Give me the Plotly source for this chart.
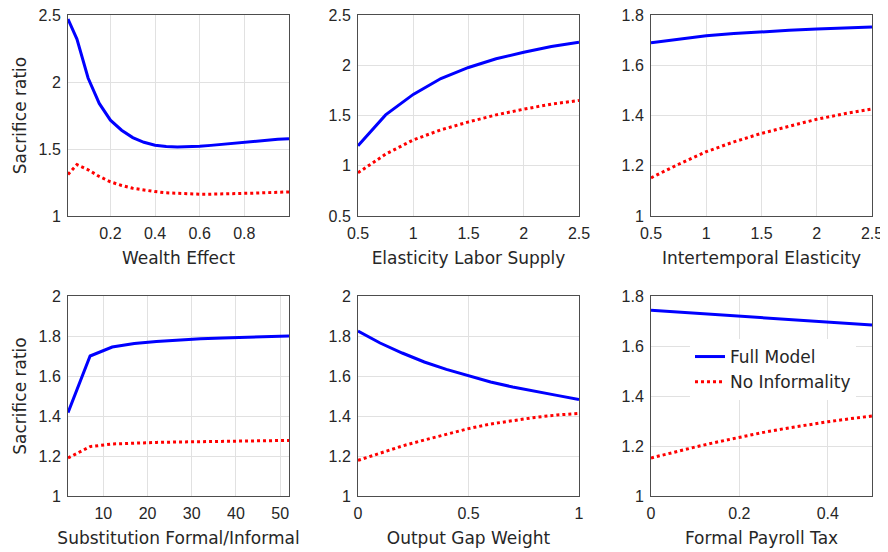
import plotly.graph_objects as go

# ---- data ----
wealth_x = [0.01, 0.05, 0.1, 0.15, 0.2, 0.25, 0.3, 0.35, 0.4, 0.45, 0.5, 0.55, 0.6, 0.65, 0.7, 0.75, 0.8, 0.85, 0.9, 0.95, 1.0]
wealth_full = [2.47, 2.32, 2.03, 1.84, 1.715, 1.64, 1.585, 1.55, 1.528, 1.518, 1.515, 1.516, 1.52, 1.527, 1.535, 1.543, 1.552, 1.558, 1.565, 1.572, 1.577]
wealth_noinf = [1.31, 1.383, 1.345, 1.295, 1.255, 1.228, 1.207, 1.192, 1.182, 1.173, 1.168, 1.165, 1.163, 1.163, 1.164, 1.166, 1.168, 1.171, 1.174, 1.177, 1.18]

labor_x = [0.5, 0.75, 1.0, 1.25, 1.5, 1.75, 2.0, 2.25, 2.5]
labor_full = [1.2, 1.506, 1.71, 1.868, 1.978, 2.064, 2.13, 2.187, 2.23]
labor_noinf = [0.93, 1.115, 1.257, 1.357, 1.436, 1.506, 1.563, 1.613, 1.65]

inter_x = [0.5, 0.75, 1.0, 1.25, 1.5, 1.75, 2.0, 2.25, 2.5]
inter_full = [1.69, 1.704, 1.717, 1.726, 1.733, 1.739, 1.744, 1.748, 1.752]
inter_noinf = [1.152, 1.206, 1.256, 1.295, 1.329, 1.358, 1.385, 1.407, 1.426]

subst_x = [2, 7, 12, 17, 22, 27, 32, 37, 42, 47, 52]
subst_full = [1.417, 1.70, 1.745, 1.762, 1.772, 1.78, 1.786, 1.79, 1.794, 1.797, 1.80]
subst_noinf = [1.19, 1.247, 1.26, 1.265, 1.268, 1.27, 1.272, 1.274, 1.275, 1.277, 1.278]

gap_x = [0.0, 0.1, 0.2, 0.3, 0.4, 0.5, 0.6, 0.7, 0.8, 0.9, 1.0]
gap_full = [1.825, 1.765, 1.715, 1.67, 1.633, 1.60, 1.57, 1.545, 1.523, 1.503, 1.483]
gap_noinf = [1.178, 1.215, 1.25, 1.28, 1.31, 1.337, 1.36, 1.378, 1.393, 1.405, 1.413]

tax_x = [0.0, 0.05, 0.1, 0.15, 0.2, 0.25, 0.3, 0.35, 0.4, 0.45, 0.5]
tax_full = [1.743, 1.737, 1.731, 1.725, 1.719, 1.714, 1.708, 1.702, 1.697, 1.690, 1.684]
tax_noinf = [1.152, 1.175, 1.196, 1.216, 1.236, 1.253, 1.269, 1.284, 1.297, 1.309, 1.32]

x_titles = ["Wealth Effect", "Elasticity Labor Supply", "Intertemporal Elasticity",
            "Substitution Formal/Informal", "Output Gap Weight", "Formal Payroll Tax"]
y_title = "Sacrifice ratio"
series_names = ["Full Model", "No Informality"]

x_ticks = [[0.2, 0.4, 0.6, 0.8], [0.5, 1, 1.5, 2, 2.5], [0.5, 1, 1.5, 2, 2.5],
           [10, 20, 30, 40, 50], [0, 0.5, 1], [0, 0.2, 0.4]]
x_ticktext = [["0.2", "0.4", "0.6", "0.8"], ["0.5", "1", "1.5", "2", "2.5"], ["0.5", "1", "1.5", "2", "2.5"],
              ["10", "20", "30", "40", "50"], ["0", "0.5", "1"], ["0", "0.2", "0.4"]]
y_ticks = [[1, 1.5, 2, 2.5], [0.5, 1, 1.5, 2, 2.5], [1, 1.2, 1.4, 1.6, 1.8],
           [1, 1.2, 1.4, 1.6, 1.8, 2], [1, 1.2, 1.4, 1.6, 1.8, 2], [1, 1.2, 1.4, 1.6, 1.8]]
y_ticktext = [["1", "1.5", "2", "2.5"], ["0.5", "1", "1.5", "2", "2.5"], ["1", "1.2", "1.4", "1.6", "1.8"],
              ["1", "1.2", "1.4", "1.6", "1.8", "2"], ["1", "1.2", "1.4", "1.6", "1.8", "2"], ["1", "1.2", "1.4", "1.6", "1.8"]]

# ---- layout ----
# the page body has an 8px margin, so the figure is placed 8px in from the window corner
OFF = 8
W, H = 888 - OFF, 552 - OFF
x_ranges = [[0.01, 1.0], [0.5, 2.5], [0.5, 2.5], [2, 52], [0, 1], [0, 0.5]]
y_ranges = [[1, 2.5], [0.5, 2.5], [1, 1.8], [1, 2], [1, 2], [1, 1.8]]
col_px = [(68, 289), (358, 579), (651, 872)]   # window pixels
row_px = [(15, 216), (296, 496)]

data_sets = [(wealth_x, wealth_full, wealth_noinf), (labor_x, labor_full, labor_noinf),
             (inter_x, inter_full, inter_noinf), (subst_x, subst_full, subst_noinf),
             (gap_x, gap_full, gap_noinf), (tax_x, tax_full, tax_noinf)]

TXT = "#262626"
TICKFONT = "Liberation Sans, Arial, sans-serif"
TITLEFONT = "DejaVu Sans, sans-serif"
fig = go.Figure()
layout = dict(width=W, height=H, margin=dict(l=0, r=0, t=0, b=0, autoexpand=False),
              paper_bgcolor="white", plot_bgcolor="white",
              font=dict(family=TITLEFONT, size=17, color=TXT))

for i, (xs, full, noinf) in enumerate(data_sets):
    k = i + 1
    xa = "x" if k == 1 else f"x{k}"
    ya = "y" if k == 1 else f"y{k}"
    fig.add_trace(go.Scatter(x=xs, y=full, mode="lines", name=series_names[0],
                             line=dict(color="#0000FF", width=3), xaxis=xa, yaxis=ya,
                             showlegend=(k == 6)))
    fig.add_trace(go.Scatter(x=xs, y=noinf, mode="lines", name=series_names[1],
                             line=dict(color="#FF0000", width=3, dash="dot"), xaxis=xa, yaxis=ya,
                             showlegend=(k == 6)))
    r, c = divmod(i, 3)
    x0, x1 = col_px[c]
    y0, y1 = row_px[r]
    common = dict(showline=True, mirror=True, linecolor="#4d4d4d", linewidth=1,
                  showgrid=True, gridcolor="rgb(225,225,225)", gridwidth=1,
                  zeroline=False, ticks="outside", ticklen=3, tickcolor="rgba(0,0,0,0)",
                  automargin=False, ticklabeloverflow="allow",
                  tickfont=dict(size=16, color=TXT, family=TICKFONT))
    layout["xaxis" if k == 1 else f"xaxis{k}"] = dict(
        common, domain=[(x0 - OFF) / W, (x1 - OFF) / W], range=x_ranges[i], anchor=ya,
        tickvals=x_ticks[i], ticktext=x_ticktext[i],
        title=dict(text=x_titles[i], standoff=10, font=dict(size=17, color=TXT, family=TITLEFONT)))
    ydict = dict(common, domain=[1 - (y1 - OFF) / H, 1 - (y0 - OFF) / H], range=y_ranges[i], anchor=xa,
                 tickvals=y_ticks[i], ticktext=y_ticktext[i])
    if c == 0:
        ydict["title"] = dict(text=y_title, standoff=7, font=dict(size=17, color=TXT, family=TITLEFONT))
    layout["yaxis" if k == 1 else f"yaxis{k}"] = ydict

layout["legend"] = dict(x=(690 - OFF) / W, y=1 - (339 - OFF) / H, xanchor="left", yanchor="top",
                        bgcolor="white", borderwidth=0, tracegroupgap=0,
                        font=dict(size=17, color=TXT, family=TITLEFONT))
fig.update_layout(**layout)
fig.write_html("out.html")
